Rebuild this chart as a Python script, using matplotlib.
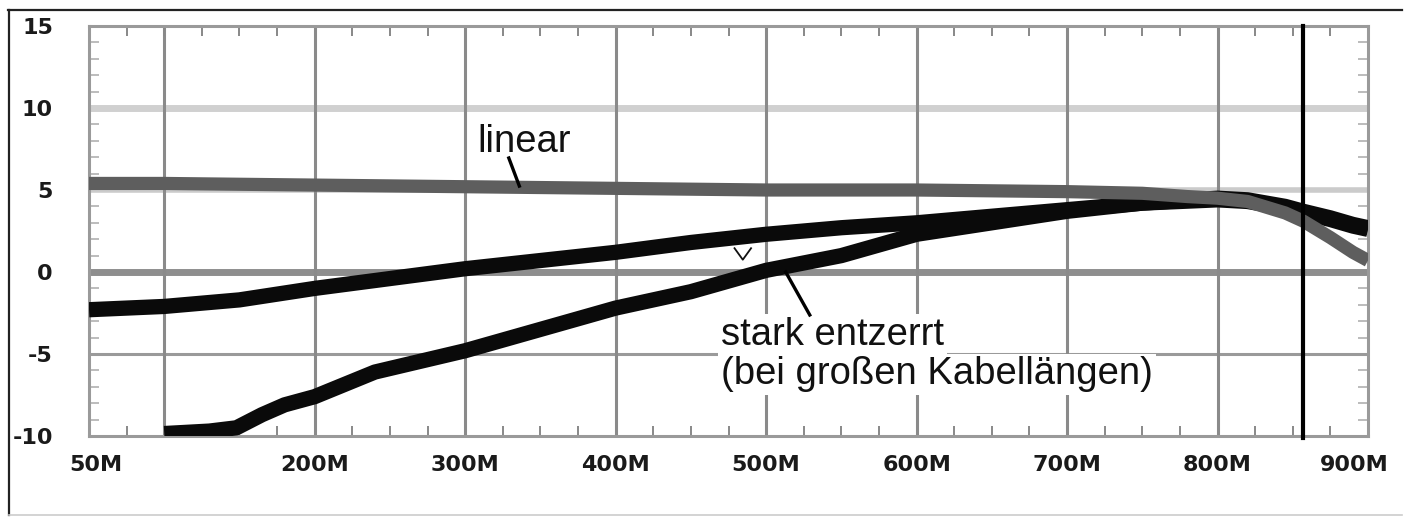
import matplotlib
matplotlib.use("Agg")
import matplotlib.pyplot as plt
from matplotlib.ticker import MultipleLocator, FixedLocator, FixedFormatter
from matplotlib.lines import Line2D
import matplotlib.transforms as mtransforms

# ---------------- data ----------------
freq_linear = [50, 100, 200, 300, 400, 500, 600, 700, 750, 780, 800, 820, 845, 857, 875, 890, 900]
gain_linear = [5.4, 5.4, 5.3, 5.2, 5.1, 5.0, 5.0, 4.9, 4.8, 4.6, 4.5, 4.3, 3.6, 3.1, 2.1, 1.2, 0.7]

freq_mid = [50, 100, 150, 200, 250, 300, 350, 400, 450, 500, 550, 600, 650, 700, 750, 800, 820, 845, 857, 875, 890, 900]
gain_mid = [-2.3, -2.1, -1.7, -1.0, -0.4, 0.2, 0.7, 1.2, 1.8, 2.3, 2.7, 3.0, 3.4, 3.8, 4.2, 4.5, 4.4, 4.0, 3.7, 3.3, 2.9, 2.7]

freq_stark = [100, 130, 148, 165, 180, 200, 240, 300, 350, 400, 450, 500, 550, 600, 650, 700, 750, 800, 820, 845, 857, 875, 890, 900]
gain_stark = [-9.85, -9.7, -9.5, -8.7, -8.1, -7.6, -6.1, -4.8, -3.5, -2.2, -1.2, 0.1, 1.0, 2.3, 3.0, 3.7, 4.2, 4.4, 4.3, 3.9, 3.6, 3.2, 2.8, 2.6]

x_tick_values = [50, 200, 300, 400, 500, 600, 700, 800, 900]
x_tick_labels = ["50M", "200M", "300M", "400M", "500M", "600M", "700M", "800M", "900M"]
y_tick_values = [15, 10, 5, 0, -5, -10]
y_tick_labels = ["15", "10", "5", "0", "-5", "-10"]
x_grid = [100, 200, 300, 400, 500, 600, 700, 800]
y_grid = [10, 5, 0, -5]
marker_freq = 857

label_linear = "linear"
label_stark_1 = "stark entzerrt"
label_stark_2 = "(bei großen Kabellängen)"

# ---------------- figure ----------------
W, H = 1404, 517
fig = plt.figure(figsize=(W / 100, H / 100), dpi=100)
fig.patch.set_facecolor("white")
ax = fig.add_axes([89 / W, (H - 436) / H, (1368 - 89) / W, (436 - 26) / H])
ax.set_xlim(50, 900)
ax.set_ylim(-10, 15)

# horizontal grid lines (different greys / widths as in the scope plot)
hstyle = {10: ("#d0d0d0", 5.0), 5: ("#cbcbcb", 4.0), 0: ("#8e8e8e", 5.0), -5: ("#9a9a9a", 2.2)}
for v in y_grid:
    c, lw = hstyle[v]
    ax.axhline(v, color=c, lw=lw, zorder=1)
for f in x_grid:
    ax.axvline(f, color="#8a8a8a", lw=2.2, zorder=1.2)

# curves
ax.plot(freq_mid, gain_mid, color="#0a0a0a", lw=11, solid_capstyle="butt", zorder=3)
ax.plot(freq_stark, gain_stark, color="#0a0a0a", lw=11, solid_capstyle="butt", zorder=3)
ax.plot(freq_linear, gain_linear, color="#5e5e5e", lw=9.5, solid_capstyle="butt", zorder=3.5)

# vertical marker
ax.plot([marker_freq, marker_freq], [-10.15, 15], color="black", lw=3.0, zorder=5, clip_on=False)

# annotation texts
ax.text(308, 7.3, label_linear, fontsize=27.5, family="Liberation Sans", va="baseline", ha="left",
        color="#111111", zorder=6)
ax.plot([329, 336], [6.95, 5.24], color="black", lw=2.4, zorder=6)

ax.text(470, -4.45, label_stark_1, fontsize=27.5, family="Liberation Sans", va="baseline", ha="left",
        color="#111111", zorder=6,
        bbox=dict(facecolor="white", edgecolor="none", pad=2))
ax.text(470, -6.85, label_stark_2, fontsize=27.5, family="Liberation Sans", va="baseline", ha="left",
        color="#111111", zorder=6,
        bbox=dict(facecolor="white", edgecolor="none", pad=2))
ax.plot([513, 529], [0.0, -2.62], color="black", lw=2.4, zorder=6)
# small "v" mark
ax.plot([479, 484.5, 490], [1.45, 0.75, 1.45], color="#111111", lw=1.3, zorder=6)

# spines
for s in ax.spines.values():
    s.set_color("#9a9a9a")
    s.set_linewidth(2.2)
    s.set_zorder(2)

# ticks
ax.xaxis.set_major_locator(FixedLocator(x_tick_values))
ax.xaxis.set_major_formatter(FixedFormatter(x_tick_labels))
ax.xaxis.set_minor_locator(MultipleLocator(25))
ax.yaxis.set_major_locator(FixedLocator(y_tick_values))
ax.yaxis.set_major_formatter(FixedFormatter(y_tick_labels))
ax.yaxis.set_minor_locator(MultipleLocator(1))

ax.tick_params(axis="x", which="major", length=0, pad=14, labelsize=16, labelcolor="#1a1a1a")
ax.tick_params(axis="y", which="major", length=0, pad=26, labelsize=16, labelcolor="#1a1a1a")
ax.tick_params(axis="x", which="minor", direction="in", length=7, width=1.4, color="#888888",
               top=True, bottom=True)
ax.tick_params(axis="y", which="minor", direction="in", length=7, width=1.2, color="#b0b0b0",
               left=True, right=True)
for lab in ax.get_yticklabels() + ax.get_xticklabels():
    lab.set_family("DejaVu Sans")
    lab.set_fontweight("bold")

xl = ax.get_xticklabels()
xl[0].set_transform(xl[0].get_transform() + mtransforms.ScaledTranslation(7 / 100, 0, fig.dpi_scale_trans))
xl[-1].set_transform(xl[-1].get_transform() + mtransforms.ScaledTranslation(-14 / 100, 0, fig.dpi_scale_trans))

# outer frame of the picture
fig.add_artist(Line2D([8 / W, 1402 / W], [1 - 10 / H, 1 - 10 / H], color="#222222", lw=1.6))
fig.add_artist(Line2D([9 / W, 9 / W], [1 - 10 / H, 1 - 515 / H], color="#222222", lw=1.6))
fig.add_artist(Line2D([9 / W, 1402 / W], [1 - 515 / H, 1 - 515 / H], color="#cccccc", lw=1.2))

fig.savefig("out.png", dpi=100, facecolor="white")
